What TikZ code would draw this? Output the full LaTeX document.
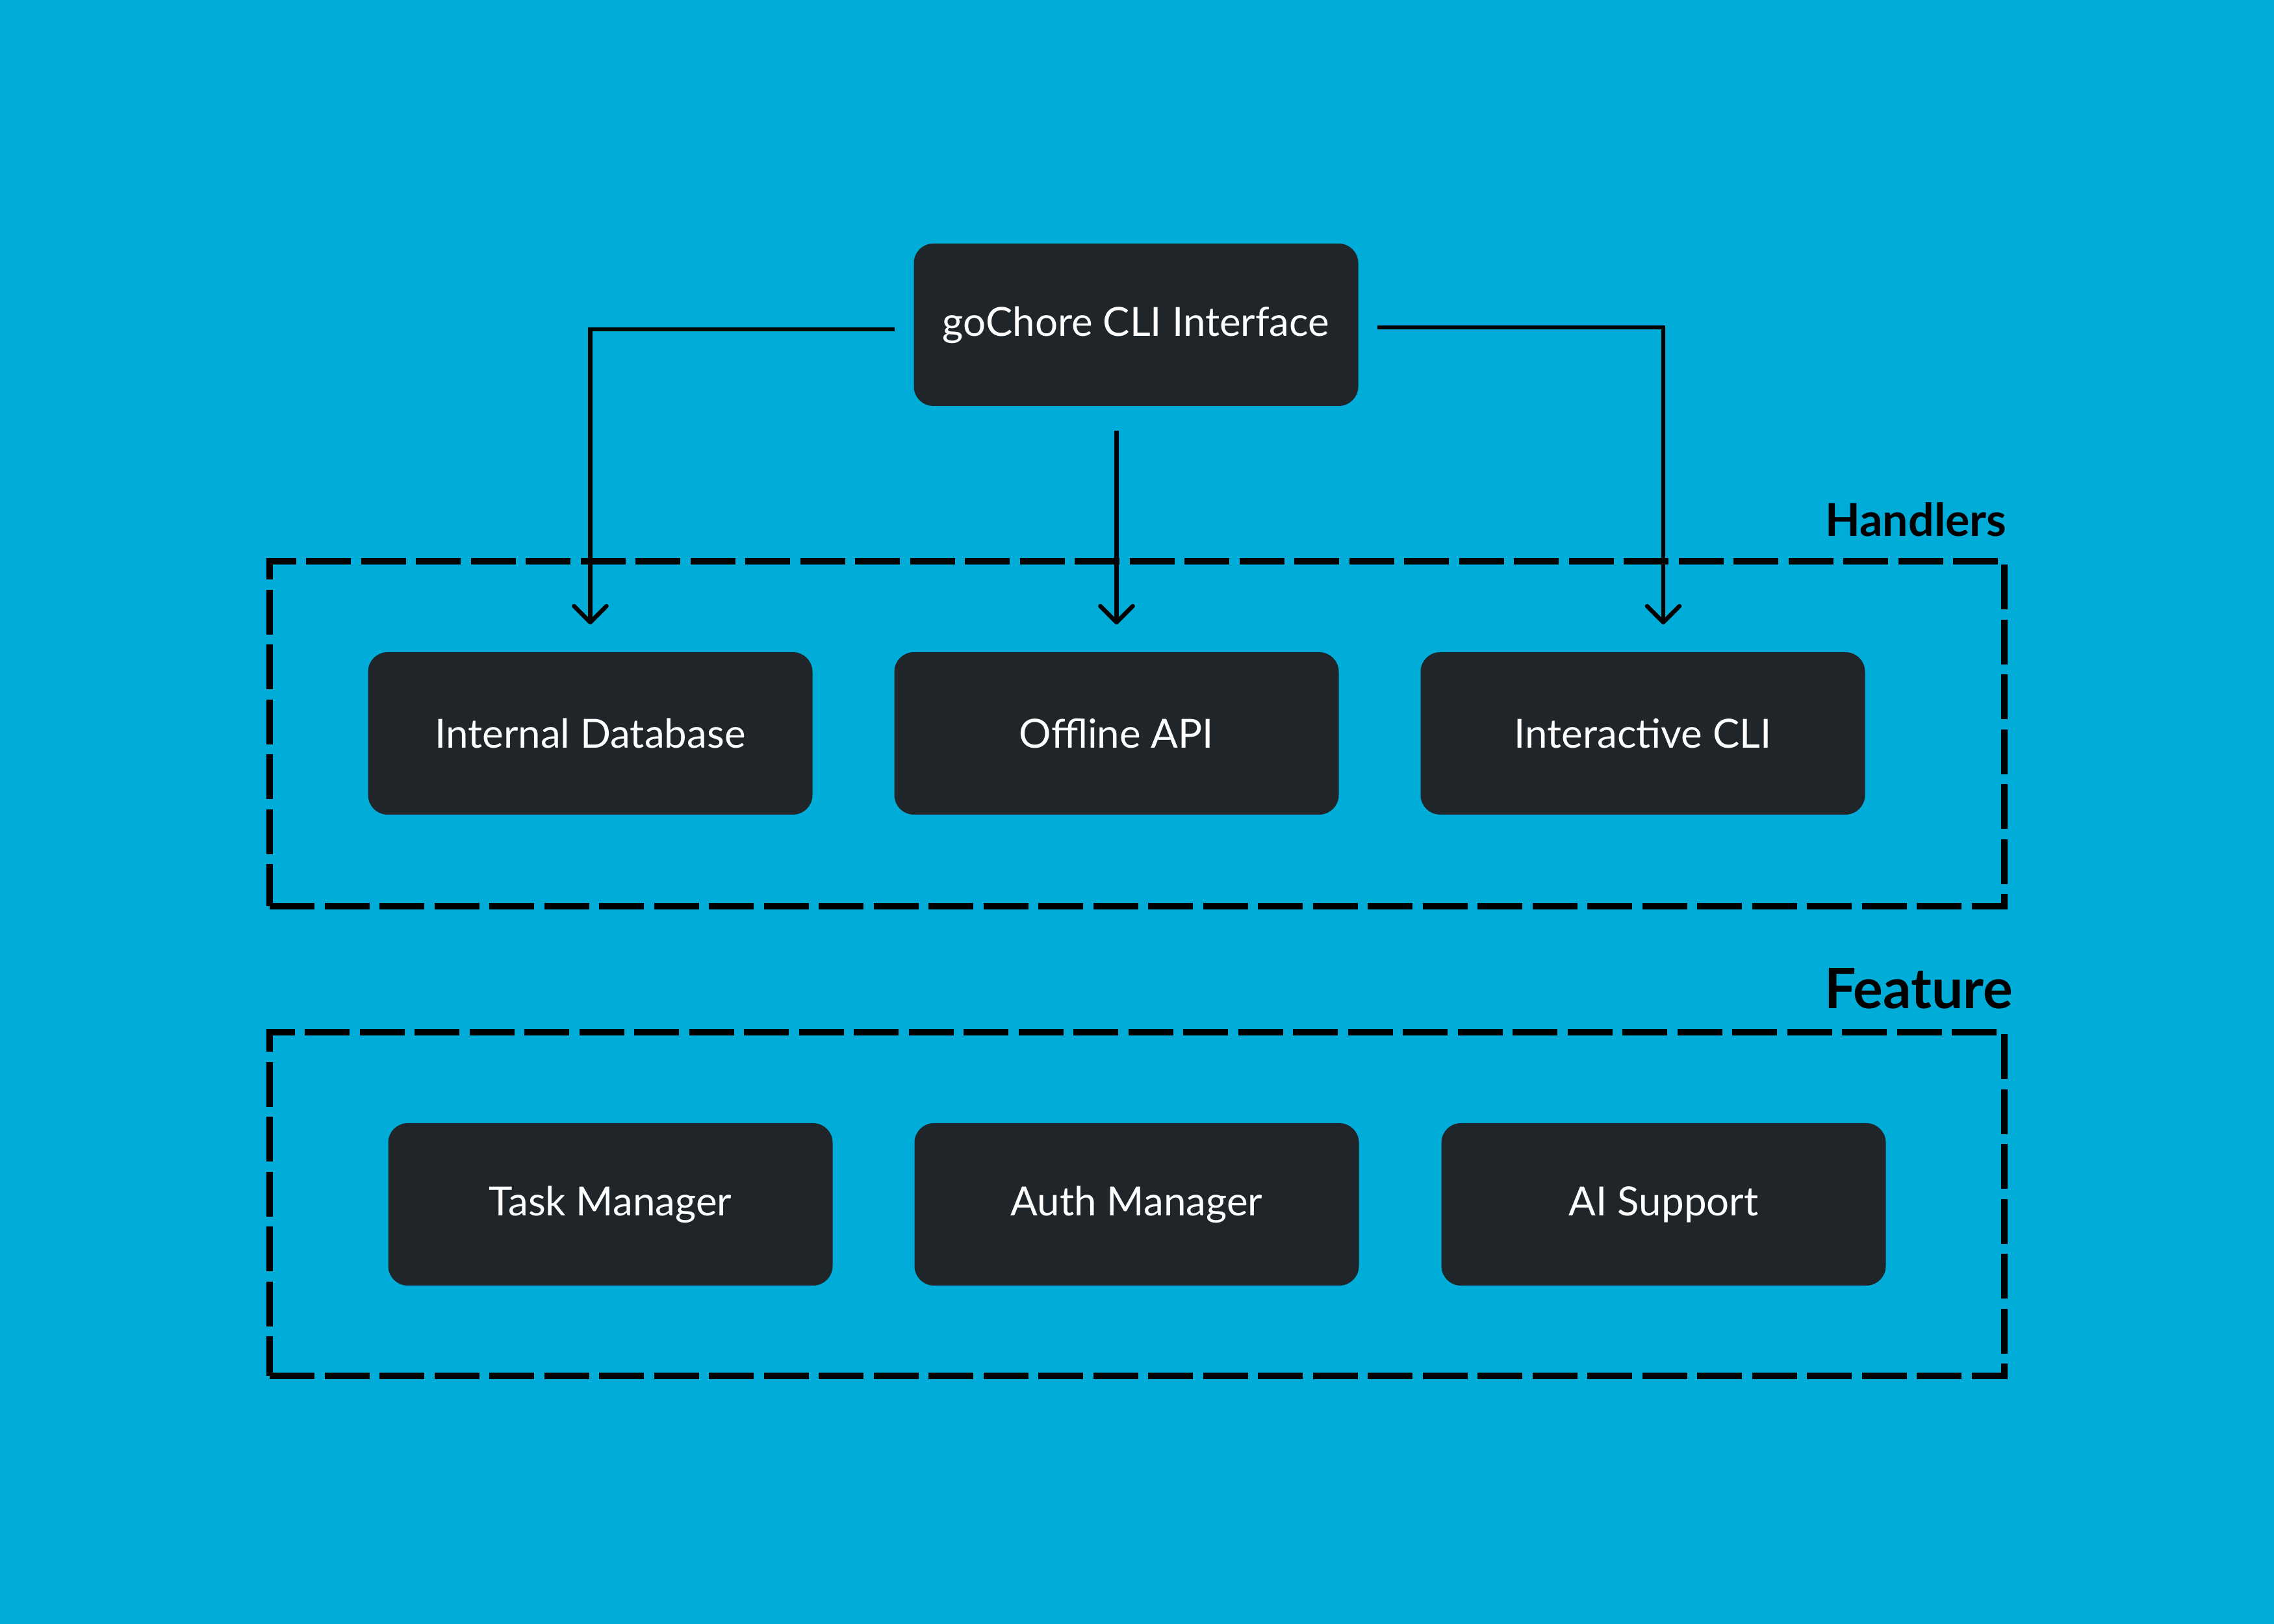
\documentclass[tikz,border=0pt]{standalone}
\usepackage{fontspec}
\setmainfont{Lato}
\usepackage{xcolor}
\usepackage{tikz}
\usetikzlibrary{arrows.meta,positioning}
\definecolor{bg}{HTML}{00ACD8}
\definecolor{boxbg}{HTML}{1F2528}
\definecolor{text}{HTML}{FFFFFF}
\definecolor{ink}{HTML}{000000}
\tikzset{
  block/.style={fill=boxbg, rounded corners=0.3cm, minimum width=6.84cm, minimum height=2.5cm, inner sep=0pt, text=text, font=\fontsize{17.6pt}{20pt}\selectfont},
  group/.style={draw=ink, line width=0.1cm, dash pattern=on 0.69cm off 0.155cm, minimum width=26.7cm, inner sep=0pt},
  conn/.style={draw=ink, line width=0.065cm, -{Straight Barb[length=0.25cm, width=0.5cm, round]}},
  glab/.style={text=ink, anchor=base east, inner sep=0pt, font=\bfseries},
}
\begin{document}
\begin{tikzpicture}
\fill[bg] (0,0) rectangle (35,25);
\useasboundingbox (0,0) rectangle (35,25);

\node[group, minimum height=5.31cm] (handlers) at (17.5,13.705) {};
\node[group, minimum height=5.29cm] (feature) at (17.5,6.465) {};
\node[glab, font=\bfseries\fontsize{19.9pt}{22pt}\selectfont] (hlab) at (30.89,16.74) {Handlers};
\node[glab, font=\bfseries\fontsize{24.4pt}{26pt}\selectfont] (flab) at (30.99,9.47) {Feature};

\node[block] (cli) at (17.485,20.0) {goChore CLI Interface};

\node[block] (idb) at (9.085,13.71) {Internal Database};
\node[block] (api) at (17.185,13.71) {Offline API};
\node[block] (icli) at (25.285,13.71) {Interactive CLI};

\node[block] (task) at (9.395,6.46) {Task Manager};
\node[block] (auth) at (17.495,6.46) {Auth Manager};
\node[block] (ai) at (25.605,6.46) {AI Support};

\coordinate (tl) at ([xshift=-0.29cm, yshift=-0.07cm]cli.west);
\coordinate (tr) at ([xshift=0.29cm, yshift=-0.04cm]cli.east);
\coordinate (ir) at ([xshift=0.315cm]icli.north);
\draw[conn, shorten >=0.42cm] (tl) -| (idb.north);
\draw[conn, shorten <=0.37cm, shorten >=0.42cm] (cli.south -| api.north) -- (api.north);
\draw[conn, shorten >=0.42cm] (tr) -| (ir);
\end{tikzpicture}
\end{document}
